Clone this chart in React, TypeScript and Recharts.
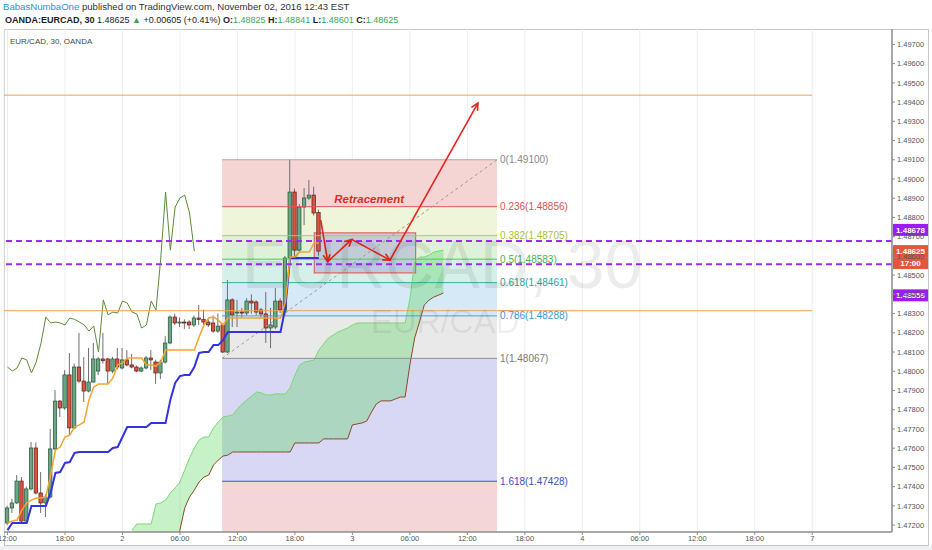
import React from "react";
import {
  ComposedChart,
  Bar,
  Line,
  Area,
  XAxis,
  YAxis,
  CartesianGrid,
  ReferenceLine,
  ReferenceArea,
  ReferenceDot,
} from "recharts";

// 30-minute candles (bar 0 = Nov 1, 12:00)
const OPEN = [
  1.47211, 1.47289, 1.47315, 1.47429, 1.47221, 1.47388, 1.47601, 1.47367, 1.47315, 1.47346,
  1.47596, 1.47845, 1.47809, 1.47981, 1.47705, 1.48022, 1.47949, 1.47897, 1.47944, 1.48001,
  1.48064, 1.48064, 1.48001, 1.48064, 1.48017, 1.48059, 1.48033, 1.48022, 1.48001, 1.48017,
  1.48069, 1.48048, 1.47991, 1.48048, 1.48147, 1.48282, 1.48251, 1.48256, 1.48256, 1.48241,
  1.48277, 1.4827, 1.48256, 1.48251, 1.48209, 1.48241, 1.481, 1.48371, 1.48303, 1.48308,
  1.48303, 1.48365, 1.4836, 1.48319, 1.48298, 1.48225, 1.4823, 1.48365, 1.48308, 1.48589,
  1.48932, 1.4863, 1.48854, 1.48901, 1.48916, 1.48825,
];
const HIGH = [
  1.473, 1.47336, 1.4746, 1.4745, 1.474, 1.47632, 1.4763, 1.47476, 1.4736, 1.477,
  1.47903, 1.4785, 1.48006, 1.48095, 1.4804, 1.48199, 1.48074, 1.48121, 1.48147, 1.48074,
  1.48199, 1.4807, 1.48075, 1.48121, 1.48121, 1.4811, 1.4809, 1.4803, 1.48025, 1.4808,
  1.4811, 1.4806, 1.4806, 1.48183, 1.4829, 1.483, 1.4828, 1.4827, 1.48265, 1.4829,
  1.48345, 1.4832, 1.4827, 1.4829, 1.483, 1.4825, 1.48475, 1.4838, 1.48371, 1.4833,
  1.4838, 1.484, 1.4837, 1.4833, 1.48412, 1.4833, 1.48433, 1.4838, 1.486, 1.491,
  1.4895, 1.4887, 1.48953, 1.48994, 1.4896, 1.48841,
];
const LOW = [
  1.472, 1.47263, 1.4731, 1.47215, 1.47215, 1.4738, 1.4736, 1.47263, 1.47242, 1.4734,
  1.4759, 1.47762, 1.478, 1.47663, 1.477, 1.4794, 1.4784, 1.4789, 1.4794, 1.4798,
  1.4804, 1.47934, 1.4799, 1.4801, 1.4801, 1.48025, 1.48015, 1.47995, 1.47995, 1.4801,
  1.48006, 1.47934, 1.4796, 1.4804, 1.4814, 1.4824, 1.4823, 1.4822, 1.4822, 1.4823,
  1.4824, 1.4824, 1.4823, 1.482, 1.482, 1.48095, 1.48095, 1.4823, 1.4823, 1.4828,
  1.4829, 1.483, 1.4829, 1.4828, 1.48147, 1.4812, 1.4822, 1.48303, 1.4829, 1.4857,
  1.486, 1.4862, 1.4876, 1.4889, 1.4881, 1.48601,
];
const CLOSE = [
  1.47289, 1.47315, 1.47429, 1.47221, 1.47388, 1.47601, 1.47367, 1.47315, 1.47346, 1.47596,
  1.47845, 1.47809, 1.47981, 1.47705, 1.48022, 1.47949, 1.47897, 1.47944, 1.48064, 1.48064,
  1.48055, 1.48001, 1.48064, 1.48022, 1.48059, 1.48033, 1.48022, 1.48001, 1.48017, 1.48069,
  1.48059, 1.47991, 1.48048, 1.48147, 1.48282, 1.48251, 1.48256, 1.48251, 1.48241, 1.48277,
  1.4827, 1.48256, 1.48241, 1.48209, 1.48235, 1.481, 1.48371, 1.48293, 1.48308, 1.48303,
  1.48365, 1.48355, 1.48308, 1.48298, 1.48225, 1.48241, 1.48365, 1.48319, 1.48589, 1.48932,
  1.4863, 1.48854, 1.48901, 1.48916, 1.48823, 1.48625,
];

// Ichimoku lines
const TENKAN = [
  1.47211, 1.47221, 1.47226, 1.47278, 1.47315, 1.4733, 1.47341, 1.47341, 1.47346, 1.4746,
  1.4759, 1.47606, 1.47658, 1.47668, 1.4771, 1.47721, 1.47736, 1.47851, 1.47918, 1.47934,
  1.47934, 1.47934, 1.47965, 1.48033, 1.48043, 1.48069, 1.48069, 1.48069, 1.48069, 1.48033,
  1.48033, 1.48027, 1.48048, 1.4811, 1.4811, 1.4811, 1.4811, 1.4811, 1.4811, 1.4811,
  1.48178, 1.4824, 1.48277, 1.48282, 1.48266, 1.4824, 1.48277, 1.48277, 1.48277, 1.48277,
  1.48277, 1.48277, 1.48277, 1.48277, 1.48277, 1.48277, 1.48277, 1.48277, 1.4836, 1.48594,
  1.48594, 1.4862, 1.4862, 1.4862, 1.48667, 1.48667,
];
const KIJUN = [
  1.47174, 1.47211, 1.47211, 1.47211, 1.47211, 1.47299, 1.47299, 1.47299, 1.47299, 1.47367,
  1.47471, 1.47476, 1.47523, 1.47528, 1.47575, 1.4758, 1.4758, 1.4758, 1.4758, 1.4758,
  1.4758, 1.4758, 1.47601, 1.47606, 1.47658, 1.4771, 1.4771, 1.4771, 1.4771, 1.4771,
  1.47731, 1.47731, 1.47731, 1.47731, 1.47851, 1.47939, 1.47975, 1.4798, 1.4798, 1.48022,
  1.48095, 1.481, 1.481, 1.48136, 1.48136, 1.48162, 1.48204, 1.48204, 1.48204, 1.48204,
  1.48204, 1.48204, 1.48204, 1.48204, 1.48204, 1.48204, 1.48204, 1.48204, 1.4833, 1.48589,
  1.48589, 1.48589, 1.48589, 1.48589, 1.48589, 1.48589,
];
// leading spans, plotted 26 bars ahead (bars 26..91)
const SPAN_A = [
  1.47174, 1.47206, 1.47206, 1.47206, 1.47206, 1.4731, 1.47315, 1.4733, 1.47367, 1.47393,
  1.47424, 1.47486, 1.47549, 1.47601, 1.47642, 1.47658, 1.47658, 1.47705, 1.47736, 1.47762,
  1.47767, 1.47773, 1.47804, 1.4783, 1.47851, 1.47872, 1.47892, 1.47887, 1.47877, 1.47877,
  1.47882, 1.47882, 1.47882, 1.47913, 1.4798, 1.48033, 1.48048, 1.48053, 1.48058, 1.4811,
  1.48142, 1.48173, 1.48188, 1.48204, 1.48214, 1.48225, 1.4824, 1.48251, 1.48251, 1.48251,
  1.48251, 1.48251, 1.48251, 1.48251, 1.48251, 1.48251, 1.48251, 1.48251, 1.48375, 1.48568,
  1.48594, 1.48594, 1.48604, 1.4862, 1.48625, 1.4863,
];
const SPAN_B = [
  1.4694, 1.4694, 1.4694, 1.4694, 1.4694, 1.46966, 1.46992, 1.47018, 1.47044, 1.47096,
  1.47174, 1.47289, 1.47346, 1.47382, 1.47424, 1.4745, 1.4746, 1.47512, 1.47538, 1.47559,
  1.47564, 1.4758, 1.4758, 1.4758, 1.4758, 1.4758, 1.4758, 1.4758, 1.4758, 1.4758,
  1.4758, 1.4758, 1.4758, 1.4758, 1.47627, 1.47627, 1.47627, 1.47627, 1.47627, 1.47627,
  1.47648, 1.47648, 1.47648, 1.47648, 1.47648, 1.47648, 1.47721, 1.47726, 1.47731, 1.47741,
  1.47788, 1.4783, 1.47846, 1.47846, 1.47846, 1.47856, 1.47866, 1.47866, 1.48033, 1.48173,
  1.48256, 1.48344, 1.4837, 1.48386, 1.48396, 1.48407,
];
const LAG = 26;

// axes
const X_DOMAIN = [-0.73, 184.65];
const X_TICKS = [0, 12, 24, 36, 48, 60, 72, 84, 96, 108, 120, 132, 144, 156, 168];
const X_LABELS = ["12:00", "18:00", "2", "06:00", "12:00", "18:00", "3", "06:00", "12:00", "18:00", "4", "06:00", "12:00", "18:00", "7"];
const Y_DOMAIN = [1.47164, 1.4978];
const Y_TICKS = [
  1.472, 1.473, 1.474, 1.475, 1.476, 1.477, 1.478, 1.479, 1.48, 1.481, 1.482, 1.483, 1.484,
  1.485, 1.486, 1.487, 1.488, 1.489, 1.49, 1.491, 1.492, 1.493, 1.494, 1.495, 1.496, 1.497,
];

// fibonacci retracement drawing
const FIB_X = [44.8, 102.2];
const FIB_LEVELS = ["0", "0.236", "0.382", "0.5", "0.618", "0.786", "1", "1.618"];
const FIB_PRICES = [1.491, 1.48856, 1.48705, 1.48583, 1.48461, 1.48288, 1.48067, 1.47428];
const FIB_LINE_COLORS = ["#b9a3a3", "#e05a52", "#b6c84a", "#5cc05c", "#2eb5a0", "#4a9fd8", "#8f8f8f", "#3f4fc0"];
const FIB_TEXT_COLORS = ["#8a8a8a", "#d9534f", "#a9c13a", "#4caf50", "#26a69a", "#3c95d4", "#7a7a7a", "#4050c0"];
const FIB_BAND_COLORS = ["#f5d4d4", "#eff5d8", "#ddf2d9", "#d5f0e8", "#d6e9f7", "#e9e9ea", "#d8d8f4", "#f5d6d8"];

// other drawings
const ORANGE_LEVELS = [1.49436, 1.48315];
const ORANGE_END = 168;
const PURPLE_LEVELS = [1.48678, 1.48556];
const PURPLE_TAG_SHIFT = [-11, 31];
const LAST_PRICE = 1.48625;
const BOX_X = [64.05, 85.2];
const BOX_Y = [1.48512, 1.4872];
const ARROW_X = [65.4, 66.85, 71.86, 79.85, 98.2];
const ARROW_Y = [1.48786, 1.4857, 1.48686, 1.48578, 1.49395];
const NOTE_AT = { x: 75.5, y: 1.48896 };

const FONT = "'Liberation Sans', Arial, sans-serif";
const UP = "#6ba583";
const DOWN = "#d75442";
const UP_EDGE = "#225437";
const DOWN_EDGE = "#5b1a13";
const WICK = "#6f6f72";
const GREEN = "#3aa655";

const rows = Array.from({ length: CLOSE.length + LAG }, (_, i) => {
  const row: any = { i };
  if (i < CLOSE.length) {
    row.o = OPEN[i];
    row.h = HIGH[i];
    row.l = LOW[i];
    row.c = CLOSE[i];
    row.tenkan = TENKAN[i];
    row.kijun = KIJUN[i];
  }
  if (i + LAG < CLOSE.length) row.chikou = CLOSE[i + LAG];
  if (i >= LAG) {
    row.spanA = SPAN_A[i - LAG];
    row.spanB = SPAN_B[i - LAG];
    row.cloud = [SPAN_B[i - LAG], SPAN_A[i - LAG]];
  }
  return row;
});

const Candle = (props: any) => {
  const { x, y, width, height, payload } = props;
  if (!payload || payload.o == null || y == null || height == null) return null;
  const { o, h, l, c } = payload;
  const top = Math.min(y, y + height);
  const full = Math.abs(height);
  const k = full / (h - l || 1e-9);
  const bTop = top + (h - Math.max(o, c)) * k;
  const bBot = top + (h - Math.min(o, c)) * k;
  const cx = x + width / 2;
  const up = c >= o;
  return (
    <g>
      <line x1={cx} x2={cx} y1={top} y2={top + full} stroke={WICK} strokeWidth={1} />
      <rect
        x={cx - 1.7}
        y={bTop}
        width={3.4}
        height={Math.max(bBot - bTop, 1)}
        fill={up ? UP : DOWN}
        stroke={up ? UP_EDGE : DOWN_EDGE}
        strokeWidth={0.7}
      />
    </g>
  );
};

const arrowShape = (p: any) => {
  const { x1, y1, x2, y2 } = p;
  if (x1 == null) return null;
  const a = Math.atan2(y2 - y1, x2 - x1);
  const s = 7;
  const w = 3.5;
  const bx = x2 - s * Math.cos(a);
  const by = y2 - s * Math.sin(a);
  const pts = `${bx + w * Math.sin(a)},${by - w * Math.cos(a)} ${x2},${y2} ${bx - w * Math.sin(a)},${by + w * Math.cos(a)}`;
  return (
    <g>
      <line x1={x1} y1={y1} x2={x2} y2={y2} stroke="#e8221e" strokeWidth={1.6} />
      <polyline points={pts} fill="none" stroke="#e8221e" strokeWidth={1.6} />
    </g>
  );
};

const fibLabel = (text: string, color: string) => (p: any) => {
  const vb = p.viewBox || {};
  return (
    <text x={(vb.x || 0) + (vb.width || 0) + 3} y={vb.y} dy={3.5} fontSize={10} fill={color} fontFamily={FONT}>
      {text}
    </text>
  );
};

const priceTag = (lines: string[], bg: string, shift: number) => (p: any) => {
  const vb = p.viewBox || {};
  const x = (vb.x || 0) + (vb.width || 0) + 1;
  return (
    <g>
      {lines.map((t, n) => {
        const cy = vb.y + shift + n * 12;
        return (
          <g key={t}>
            <rect x={x} y={cy - 6} width={35} height={12} fill={bg} />
            <text x={x + 17.5} y={cy} dy={3} textAnchor="middle" fontSize={8} fontWeight="bold" fill="#fff" fontFamily={FONT}>
              {t}
            </text>
          </g>
        );
      })}
    </g>
  );
};

const noteLabel = (p: any) => {
  const vb = p.viewBox || {};
  return (
    <text
      x={(vb.x || 0) + (vb.width || 0) / 2}
      y={(vb.y || 0) + (vb.height || 0) / 2}
      dy={4}
      textAnchor="middle"
      fontSize={11.5}
      fontStyle="italic"
      fontWeight="bold"
      fill="#e02a25"
      fontFamily={FONT}
    >
      Retracement
    </text>
  );
};

export default function App() {
  const hdr: React.CSSProperties = {
    position: "absolute",
    whiteSpace: "nowrap",
    fontFamily: FONT,
    lineHeight: "12px",
    color: "#333",
  };
  return (
    <div style={{ position: "absolute", left: 0, top: 0, width: 932, height: 550, background: "#fff", overflow: "hidden" }}>
      <div style={{ ...hdr, left: 3, top: 1, fontSize: 9.6 }}>
        <span style={{ color: "#2f8fd8" }}>BabasNumbaOne</span> published on TradingView.com, November 02, 2016 12:43 EST
      </div>
      <div style={{ ...hdr, left: 5, top: 14, fontSize: 9, color: "#222" }}>
        <b>OANDA:EURCAD, 30</b> 1.48625 <span style={{ color: GREEN }}>▲</span> +0.00605 (+0.41%) <b>O:</b>
        <span style={{ color: GREEN }}>1.48825</span> <b>H:</b>
        <span style={{ color: GREEN }}>1.48841</span> <b>L:</b>
        <span style={{ color: GREEN }}>1.48601</span> <b>C:</b>
        <span style={{ color: GREEN }}>1.48625</span>
      </div>
      <div style={{ position: "absolute", left: 0, top: 546, width: 932, height: 4, background: "#eef0f4" }} />
      <div
        style={{
          position: "absolute",
          left: 4,
          top: 29,
          width: 925,
          height: 517,
          border: "1px solid #c4c4c4",
          boxSizing: "border-box",
        }}
      />
      <div style={{ position: "absolute", left: 0, top: 0 }}>
        <ComposedChart width={932} height={550} data={rows} margin={{ top: 29, right: 4, bottom: 4, left: 4 }}>
          <CartesianGrid horizontal={false} stroke="#ededed" />
          <XAxis
            dataKey="i"
            type="number"
            domain={X_DOMAIN}
            ticks={X_TICKS}
            interval={0}
            allowDataOverflow
            height={14}
            tickSize={3}
            tickMargin={1}
            tick={{ fontSize: 7.5, fill: "#555", fontFamily: FONT }}
            tickFormatter={(v: number) => X_LABELS[X_TICKS.indexOf(v)] ?? ""}
            axisLine={{ stroke: "#8c8c8c", strokeWidth: 1.5 }}
            tickLine={{ stroke: "#8c8c8c" }}
          />
          <YAxis
            orientation="right"
            type="number"
            domain={Y_DOMAIN}
            ticks={Y_TICKS}
            interval={0}
            allowDataOverflow
            width={36}
            tickSize={3}
            tickMargin={2}
            tick={{ fontSize: 7.5, fill: "#555", fontFamily: FONT }}
            tickFormatter={(v: number) => v.toFixed(5)}
            axisLine={{ stroke: "#8c8c8c", strokeWidth: 1.5 }}
            tickLine={{ stroke: "#8c8c8c" }}
          />

          {FIB_PRICES.map((p, n) => (
            <ReferenceArea
              key={`band-${n}`}
              x1={FIB_X[0]}
              x2={FIB_X[1]}
              y1={p}
              y2={n + 1 < FIB_PRICES.length ? FIB_PRICES[n + 1] : Y_DOMAIN[0]}
              fill={FIB_BAND_COLORS[n]}
              fillOpacity={1}
              stroke="none"
            />
          ))}

          <Area dataKey="cloud" type="linear" fill="#45d045" fillOpacity={0.3} stroke="none" isAnimationActive={false} />
          <Line dataKey="spanA" type="linear" stroke="#7ad77a" strokeWidth={1} dot={false} isAnimationActive={false} />
          <Line dataKey="spanB" type="linear" stroke="#8b4a2b" strokeWidth={1} dot={false} isAnimationActive={false} />
          <Line dataKey="chikou" type="linear" stroke="#5b8c38" strokeWidth={1} dot={false} isAnimationActive={false} />

          {FIB_PRICES.map((p, n) => (
            <ReferenceLine
              key={`fib-${n}`}
              segment={[{ x: FIB_X[0], y: p }, { x: FIB_X[1], y: p }]}
              stroke={FIB_LINE_COLORS[n]}
              strokeWidth={1}
              label={fibLabel(`${FIB_LEVELS[n]}(${p.toFixed(5)})`, FIB_TEXT_COLORS[n])}
            />
          ))}
          <ReferenceLine
            segment={[{ x: FIB_X[0], y: FIB_PRICES[6] }, { x: FIB_X[1], y: FIB_PRICES[0] }]}
            stroke="#9a9a9a"
            strokeDasharray="3 3"
            strokeWidth={1}
          />
          {ORANGE_LEVELS.map((p) => (
            <ReferenceLine
              key={`or-${p}`}
              segment={[{ x: X_DOMAIN[0], y: p }, { x: ORANGE_END, y: p }]}
              stroke="#eba35a"
              strokeWidth={1}
            />
          ))}

          <Line dataKey="kijun" type="linear" stroke="#3434dc" strokeWidth={2} dot={false} isAnimationActive={false} />
          <Line dataKey="tenkan" type="linear" stroke="#f5a42d" strokeWidth={1.5} dot={false} isAnimationActive={false} />
          <Bar
            dataKey={(d: any) => (d.h != null ? [d.l, d.h] : null)}
            barSize={4}
            shape={Candle}
            isAnimationActive={false}
          />

          <ReferenceArea
            x1={BOX_X[0]}
            x2={BOX_X[1]}
            y1={BOX_Y[0]}
            y2={BOX_Y[1]}
            fill="#8d7fd6"
            fillOpacity={0.33}
            stroke="#e06666"
            strokeWidth={1.2}
          />
          {PURPLE_LEVELS.map((p, n) => (
            <ReferenceLine
              key={`pu-${p}`}
              y={p}
              stroke="#9d2bf0"
              strokeWidth={2}
              strokeDasharray="6 4"
              label={priceTag([p.toFixed(5)], "#9b1cf5", PURPLE_TAG_SHIFT[n])}
            />
          ))}
          <ReferenceLine y={LAST_PRICE} stroke="none" label={priceTag([LAST_PRICE.toFixed(5), "17:00"], "#e2553f", 0)} />

          {ARROW_X.slice(1).map((x, n) => (
            <ReferenceLine
              key={`arrow-${n}`}
              segment={[{ x: ARROW_X[n], y: ARROW_Y[n] }, { x, y: ARROW_Y[n + 1] }]}
              ifOverflow="visible"
              shape={arrowShape}
            />
          ))}
          <ReferenceDot x={NOTE_AT.x} y={NOTE_AT.y} r={0} fill="none" stroke="none" label={noteLabel} />
        </ComposedChart>
      </div>
      <svg width={932} height={550} style={{ position: "absolute", left: 0, top: 0, pointerEvents: "none" }}>
        <text x={10} y={44} fontSize={8} fill="#4a4a4a" fontFamily={FONT}>
          EUR/CAD, 30, OANDA
        </text>
        <text x={442} y={288} textAnchor="middle" fontSize={68} fill="rgba(0,0,0,0.075)" fontFamily={FONT}>
          EURCAD, 30
        </text>
        <text x={445} y={333} textAnchor="middle" fontSize={33} fill="rgba(0,0,0,0.075)" fontFamily={FONT}>
          EUR/CAD
        </text>
      </svg>
    </div>
  );
}
